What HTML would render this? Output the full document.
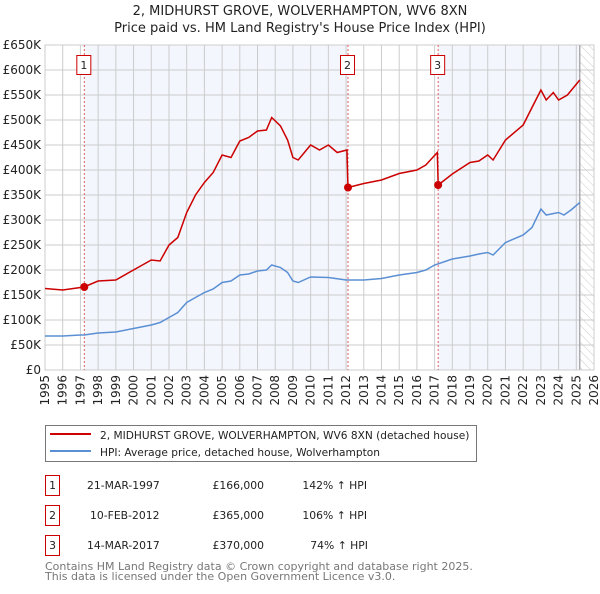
<!DOCTYPE html>
<html><head><meta charset="utf-8"><style>
body{margin:0;background:#fff;font-family:"DejaVu Sans","Liberation Sans",sans-serif;}
svg text{font-family:"DejaVu Sans","Liberation Sans",sans-serif;}
</style></head><body>
<svg id="c" width="600" height="590" viewBox="0 0 600 590" xmlns="http://www.w3.org/2000/svg">
<defs><pattern id="hatch" width="6" height="6" patternUnits="userSpaceOnUse" patternTransform="rotate(-45)"><line x1="0" y1="0" x2="0" y2="6" stroke="#ccc" stroke-width="1"/></pattern></defs>
<text x="300" y="15" text-anchor="middle" font-size="13" fill="#222">2, MIDHURST GROVE, WOLVERHAMPTON, WV6 8XN</text>
<text x="300" y="32" text-anchor="middle" font-size="13" fill="#222">Price paid vs. HM Land Registry's House Price Index (HPI)</text>
<g id="plot"></g>
<g>
<rect x="45.5" y="425.5" width="431" height="36" fill="#fff" stroke="#777"/>
<line x1="50" y1="434" x2="91" y2="434" stroke="#cc0000" stroke-width="2"/>
<text x="100" y="439" font-size="10.6" fill="#222">2, MIDHURST GROVE, WOLVERHAMPTON, WV6 8XN (detached house)</text>
<line x1="50" y1="451" x2="91" y2="451" stroke="#5b8fd4" stroke-width="2"/>
<text x="100" y="456" font-size="10.6" fill="#222">HPI: Average price, detached house, Wolverhampton</text>
</g>
<g font-size="10.8" fill="#222">
<rect x="45.5" y="475.5" width="14" height="20" fill="#fff" stroke="#c00"/><text x="52.5" y="489" text-anchor="middle">1</text>
<text x="87" y="489">21-MAR-1997</text><text x="264" y="489" text-anchor="end">£166,000</text><text x="367" y="489" text-anchor="end">142% ↑ HPI</text>
<rect x="45.5" y="505.5" width="14" height="20" fill="#fff" stroke="#c00"/><text x="52.5" y="519" text-anchor="middle">2</text>
<text x="90" y="519">10-FEB-2012</text><text x="264" y="519" text-anchor="end">£365,000</text><text x="367" y="519" text-anchor="end">106% ↑ HPI</text>
<rect x="45.5" y="535.5" width="14" height="20" fill="#fff" stroke="#c00"/><text x="52.5" y="549" text-anchor="middle">3</text>
<text x="87" y="549">14-MAR-2017</text><text x="264" y="549" text-anchor="end">£370,000</text><text x="368" y="549" text-anchor="end">74% ↑ HPI</text>
</g>
<text x="45" y="570" font-size="11" fill="#777">Contains HM Land Registry data © Crown copyright and database right 2025.</text>
<text x="45" y="580" font-size="11" fill="#777">This data is licensed under the Open Government Licence v3.0.</text>
</svg>
<script>
const yTicks=[0,50,100,150,200,250,300,350,400,450,500,550,600,650];
const yLabels=["£0","£50K","£100K","£150K","£200K","£250K","£300K","£350K","£400K","£450K","£500K","£550K","£600K","£650K"];
const xYears=[1995,1996,1997,1998,1999,2000,2001,2002,2003,2004,2005,2006,2007,2008,2009,2010,2011,2012,2013,2014,2015,2016,2017,2018,2019,2020,2021,2022,2023,2024,2025,2026];
const hpiT=[1995,1996,1997,1997.2,1998,1999,2000,2001,2001.5,2002,2002.5,2003,2003.5,2004,2004.5,2005,2005.5,2006,2006.5,2007,2007.5,2007.8,2008.3,2008.7,2009,2009.3,2010,2011,2012,2013,2014,2015,2016,2016.5,2017,2018,2019,2019.5,2020,2020.3,2021,2022,2022.5,2023,2023.3,2024,2024.3,2024.7,2025.2];
const hpiV=[68,68,70,70,74,76,83,90,95,105,115,135,145,155,162,175,178,190,192,198,200,210,205,195,178,175,186,185,180,180,183,190,195,200,210,222,228,232,235,230,255,270,285,322,310,315,310,320,335];
const redT=[1995,1996,1997.2,1998,1999,2000,2001,2001.5,2002,2002.5,2003,2003.5,2004,2004.5,2005,2005.5,2006,2006.5,2007,2007.5,2007.8,2008.3,2008.7,2009,2009.3,2010,2010.5,2011,2011.5,2012.05,2012.11,2013,2014,2015,2016,2016.5,2017.15,2017.2,2018,2019,2019.5,2020,2020.3,2021,2022,2022.5,2023,2023.3,2023.7,2024,2024.5,2025.2];
const redV=[163,160,166,178,180,200,220,218,250,265,315,350,375,395,430,425,458,465,478,480,505,488,460,425,420,450,440,450,435,440,365,373,380,393,400,410,435,370,392,415,418,430,420,460,490,525,560,540,555,540,550,580];
const saleT=[1997.22,2012.11,2017.2];
const saleV=[166,365,370];
const saleLabels=["1","2","3"];
const X0=45,X1=594,Y0=370,Y1=45,TMIN=1995,TMAX=2026,VMAX=650;
const sx=t=>X0+(t-TMIN)/(TMAX-TMIN)*(X1-X0);
const sy=v=>Y0-v/VMAX*(Y0-Y1);
const NS="http://www.w3.org/2000/svg";
const g=document.getElementById('plot');
function mk(tag,attrs,parent){const e=document.createElementNS(NS,tag);for(const k in attrs)e.setAttribute(k,attrs[k]);(parent||g).appendChild(e);return e;}
let e;
e=mk('rect',{x:sx(saleT[0]),y:Y1,width:sx(saleT[1])-sx(saleT[0]),height:Y0-Y1,fill:'#f3f6fd'});


e=mk('rect',{x:sx(saleT[2]),y:Y1,width:sx(2025.2)-sx(saleT[2]),height:Y0-Y1,fill:'#f3f6fd'});


e=mk('rect',{x:sx(2025.2),y:Y1,width:X1-sx(2025.2),height:Y0-Y1,fill:'url(#hatch)'});


yTicks.forEach((v,i)=>{
 mk('line',{x1:X0,x2:X1,y1:sy(v),y2:sy(v),stroke:'#ccc','stroke-width':1});
 e=mk('text',{x:X0-4,y:sy(v)+4,'text-anchor':'end','font-size':12,fill:'#222'});
 e.textContent=yLabels[i];
 
 
});
xYears.forEach(t=>{
 mk('line',{x1:sx(t),x2:sx(t),y1:Y1,y2:Y0,stroke:'#ccc','stroke-width':1});
 e=mk('text',{x:0,y:0,'text-anchor':'end','font-size':12,fill:'#222',transform:`translate(${sx(t)+4},${Y0+5}) rotate(-90)`});
 e.textContent=t;
 
 
});
mk('line',{x1:sx(2025.2),x2:sx(2025.2),y1:Y1,y2:Y0,stroke:'#888','stroke-width':1});
mk('rect',{x:X0,y:Y1,width:X1-X0,height:Y0-Y1,fill:'none',stroke:'#ccc'});
saleT.forEach((t,i)=>{
 e=mk('line',{x1:sx(t),x2:sx(t),y1:Y1,y2:Y0,stroke:'#e06060','stroke-width':1,'stroke-dasharray':'2,2'});
 
 
 e=mk('rect',{x:sx(t)-7.5,y:55.5,width:14,height:19,fill:'#fff',stroke:'#c00'});
 
 
 e=mk('text',{x:sx(t)-0.5,y:69,'text-anchor':'middle','font-size':11,fill:'#222'});
 e.textContent=saleLabels[i];
});
const pts=(T,V)=>T.map((t,i)=>sx(t).toFixed(1)+','+sy(V[i]).toFixed(1)).join(' ');
e=mk('polyline',{points:pts(hpiT,hpiV),fill:'none',stroke:'#5b8fd4','stroke-width':1.5});


e=mk('polyline',{points:pts(redT,redV),fill:'none',stroke:'#cc0000','stroke-width':1.5});


saleT.forEach((t,i)=>{
 e=mk('circle',{cx:sx(t),cy:sy(saleV[i]),r:4,fill:'#cc0000'});
 
 
});
</script>
</body></html>
